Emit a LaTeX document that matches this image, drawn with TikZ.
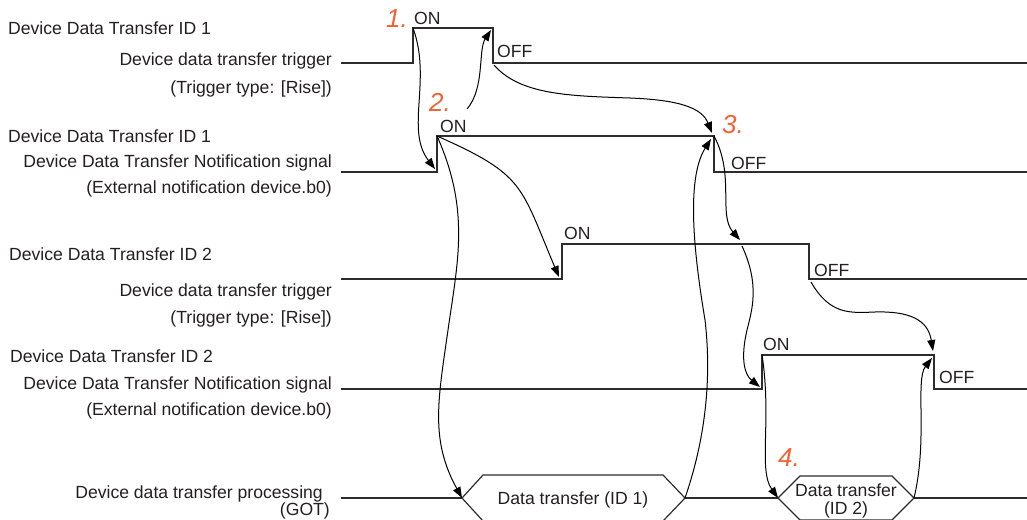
\documentclass[tikz,border=0pt]{standalone}
\usepackage{fontspec}
\setmainfont{Liberation Sans}
\usetikzlibrary{arrows.meta}
\definecolor{numorange}{RGB}{241,98,52}
\definecolor{sig}{RGB}{45,45,45}
\definecolor{txt}{RGB}{35,31,32}
\begin{document}
\begin{tikzpicture}[x=1pt,y=-1pt,
  lbl/.style={inner sep=0pt, text=txt, font=\fontsize{17.6}{20}\selectfont},
  num/.style={inner sep=0pt, text=numorange, font=\fontsize{26}{28}\selectfont\itshape},
  sigline/.style={draw=sig, line width=1.5pt},
  arr/.style={draw=black, line width=1pt, -{Triangle[length=11pt,width=8pt]}}]
\useasboundingbox (0,0) rectangle (1027,519);

% key points
\coordinate (r1t) at (413,28);
\coordinate (f1t) at (493,28);
\coordinate (f1b) at (493,63);
\coordinate (r2b) at (437,172);
\coordinate (r2t) at (437,136);
\coordinate (f2t) at (714,136);
\coordinate (r3b) at (562,279);
\coordinate (f3t) at (809,244);
\coordinate (f3b) at (809,279);
\coordinate (r4b) at (762,389);
\coordinate (r4t) at (762,355);
\coordinate (f4t) at (934,355);
\coordinate (h1l) at (462,498);
\coordinate (h1r) at (685,498);
\coordinate (h2l) at (778,498);
\coordinate (h2r) at (914,498);

% signals
\draw[sigline] (341,63) -- (413,63) -- (r1t) -- (f1t) -- (f1b) -- (1027,63);
\draw[sigline] (341,172) -- (r2b) -- (r2t) -- (f2t) -- (714,172) -- (1027,172);
\draw[sigline] (341,279) -- (r3b) -- (562,244) -- (f3t) -- (f3b) -- (1027,279);
\draw[sigline] (341,389) -- (r4b) -- (r4t) -- (f4t) -- (934,389) -- (1027,389);
\draw[draw=sig, line width=1.2pt] (341,498) -- (h1l) (h1r) -- (h2l) (h2r) -- (1027,498);
\draw[draw=sig, line width=1.2pt] (h1l) -- (483,475) -- (663,475) -- (h1r) -- (663,521) -- (483,521) -- cycle;
\draw[draw=sig, line width=1.2pt] (h2l) -- (800,476) -- (892,476) -- (h2r) -- (892,520) -- (800,520) -- cycle;

% left labels
\node[lbl, anchor=base west] (l1a) at (8,35) {Device Data Transfer ID 1};
\node[lbl, anchor=base east] (l1b) at (332,66) {Device data transfer trigger};
\node[lbl, anchor=base east] (l1c) at (332,93) {(Trigger type: [Rise])};
\node[lbl, anchor=base west] (l2a) at (8,142) {Device Data Transfer ID 1};
\node[lbl, anchor=base east] (l2b) at (332,167) {Device Data Transfer Notification signal};
\node[lbl, anchor=base east] (l2c) at (332,193) {(External notification device.b0)};
\node[lbl, anchor=base west] (l3a) at (9,260) {Device Data Transfer ID 2};
\node[lbl, anchor=base east] (l3b) at (332,296) {Device data transfer trigger};
\node[lbl, anchor=base east] (l3c) at (332,323) {(Trigger type: [Rise])};
\node[lbl, anchor=base west] (l4a) at (10,362) {Device Data Transfer ID 2};
\node[lbl, anchor=base east] (l4b) at (332,389) {Device Data Transfer Notification signal};
\node[lbl, anchor=base east] (l4c) at (332,415) {(External notification device.b0)};
\node[lbl, anchor=base east] (l5a) at (323,498) {Device data transfer processing};
\node[lbl, anchor=base east] (l5b) at (330,515) {(GOT)};

% ON / OFF
\node[lbl, anchor=base west] (on1) at (414,25) {ON};
\node[lbl, anchor=base west] (off1) at (497,58) {OFF};
\node[lbl, anchor=base west] (on2) at (440,132) {ON};
\node[lbl, anchor=base west] (off2) at (731,169) {OFF};
\node[lbl, anchor=base west] (on3) at (564,239) {ON};
\node[lbl, anchor=base west] (off3) at (814,276) {OFF};
\node[lbl, anchor=base west] (on4) at (763,350) {ON};
\node[lbl, anchor=base west] (off4) at (939,383) {OFF};

% hex texts
\node[lbl, anchor=base] (d1) at (573,504) {Data transfer (ID 1)};
\node[lbl, anchor=base] (d2a) at (846,496) {Data transfer};
\node[lbl, anchor=base] (d2b) at (846,514) {(ID 2)};

% step numbers
\node[num, anchor=base west] (n1) at (386,28) {1.};
\node[num, anchor=base west] (n2) at (429,111) {2.};
\node[num, anchor=base west] (n3) at (722,133) {3.};
\node[num, anchor=base west] (n4) at (778,466) {4.};

% arrow end points
\coordinate (a1e) at (435,169);
\coordinate (a2s) at (467,109);
\coordinate (a2e) at (491,30);
\coordinate (a3e) at (712,133);
\coordinate (a5e) at (559,277);
\coordinate (a6e) at (711,139);
\coordinate (a7e) at (740,240);
\coordinate (a8s) at (742,246);
\coordinate (a8e) at (760,387);
\coordinate (a9e) at (933,351);
\coordinate (a11e) at (932,358);

% arrows
\draw[arr] (r1t) .. controls (432,80) and (405,130) .. (a1e);
\draw[arr] (a2s) .. controls (485,88) and (478,50) .. (a2e);
\draw[arr] (494,65) .. controls (520,95) and (570,96) .. (630,98) .. controls (680,100) and (702,108) .. (a3e);
\draw[arr] (r2t) .. controls (470,210) and (458,260) .. (448,330) .. controls (438,400) and (430,440) .. (h1l);
\draw[arr] (r2t) .. controls (525,175) and (520,185) .. (a5e);
\draw[arr] (h1r) .. controls (705,440) and (712,380) .. (705,320) .. controls (695,260) and (685,180) .. (a6e);
\draw[arr] (f2t) .. controls (735,175) and (718,215) .. (a7e);
\draw[arr] (a8s) .. controls (760,285) and (752,310) .. (747,330) .. controls (740,360) and (745,375) .. (a8e);
\draw[arr] (811,282) .. controls (830,315) and (850,313) .. (875,312) .. controls (910,311) and (928,320) .. (a9e);
\draw[arr] (r4t) .. controls (772,420) and (758,470) .. (h2l);
\draw[arr] (h2r) .. controls (928,440) and (915,380) .. (a11e);
\end{tikzpicture}
\end{document}
